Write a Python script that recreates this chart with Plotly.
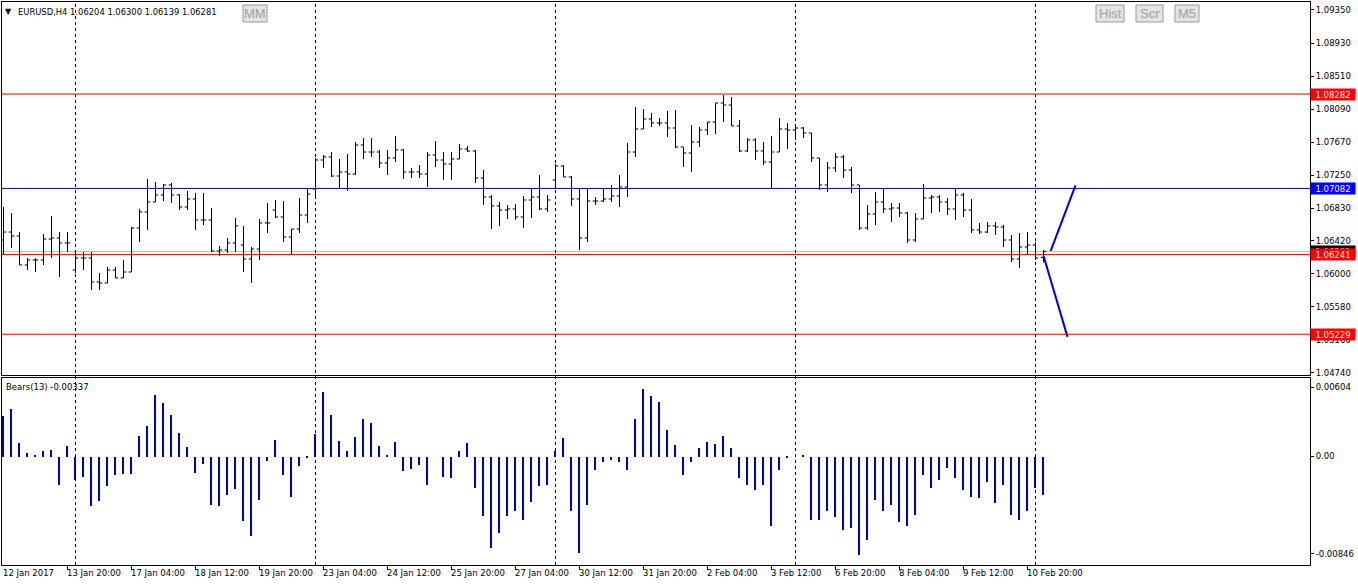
import plotly.graph_objects as go

# ---------------- data (EURUSD H4, bar index 0 = 12 Jan 2017 12:00) ----------------
open_ = [1.06427, 1.06528, 1.06477, 1.06109, 1.06172, 1.06172, 1.06439, 1.06452, 1.06389, 1.06045,
         1.06198, 1.06198, 1.05893, 1.05880, 1.06045, 1.05944, 1.06020, 1.06579, 1.06783, 1.06910,
         1.06999, 1.07126, 1.06999, 1.06846, 1.06948, 1.06681, 1.06681, 1.06287, 1.06300, 1.06389,
         1.06363, 1.06185, 1.06312, 1.06643, 1.06808, 1.06719, 1.06465, 1.06566, 1.06744, 1.07075,
         1.07443, 1.07482, 1.07240, 1.07291, 1.07265, 1.07634, 1.07545, 1.07545, 1.07405, 1.07469,
         1.07571, 1.07291, 1.07291, 1.07265, 1.07507, 1.07443, 1.07393, 1.07456, 1.07583, 1.07558,
         1.07215, 1.06973, 1.06859, 1.06808, 1.06821, 1.06719, 1.06935, 1.06973, 1.06821, 1.07189,
         1.07367, 1.07227, 1.06948, 1.06452, 1.06922, 1.06922, 1.06948, 1.06986, 1.07100, 1.07545,
         1.07837, 1.07965, 1.07914, 1.07914, 1.07850, 1.07609, 1.07532, 1.07672, 1.07825, 1.07926,
         1.08168, 1.08142, 1.07876, 1.07558, 1.07698, 1.07558, 1.07418, 1.07545, 1.07837, 1.07825,
         1.07850, 1.07787, 1.07469, 1.07126, 1.07342, 1.07482, 1.07316, 1.07126, 1.06579, 1.06757,
         1.06910, 1.06821, 1.06833, 1.06770, 1.06427, 1.06694, 1.06960, 1.06973, 1.06910, 1.06821,
         1.06999, 1.06808, 1.06554, 1.06528, 1.06605, 1.06592, 1.06427, 1.06185, 1.06338, 1.06363,
         1.06204]
high = [1.06846, 1.06770, 1.06528, 1.06198, 1.06198, 1.06503, 1.06732, 1.06528, 1.06528, 1.06300,
        1.06274, 1.06274, 1.06007, 1.06083, 1.06083, 1.06172, 1.06592, 1.06821, 1.07202, 1.07164,
        1.07138, 1.07151, 1.07011, 1.07049, 1.07024, 1.07024, 1.06833, 1.06350, 1.06452, 1.06706,
        1.06605, 1.06338, 1.06694, 1.06897, 1.06935, 1.06922, 1.06566, 1.06960, 1.07088, 1.07469,
        1.07507, 1.07545, 1.07456, 1.07520, 1.07672, 1.07723, 1.07723, 1.07571, 1.07571, 1.07748,
        1.07583, 1.07342, 1.07380, 1.07545, 1.07685, 1.07545, 1.07545, 1.07647, 1.07621, 1.07571,
        1.07316, 1.06999, 1.06910, 1.06871, 1.06884, 1.06986, 1.07088, 1.07253, 1.06999, 1.07393,
        1.07380, 1.07240, 1.07088, 1.07088, 1.06973, 1.07088, 1.07126, 1.07253, 1.07660, 1.08117,
        1.08092, 1.08041, 1.07977, 1.08066, 1.08079, 1.07609, 1.07888, 1.07863, 1.07926, 1.08168,
        1.08270, 1.08244, 1.07952, 1.07723, 1.07723, 1.07672, 1.07748, 1.07977, 1.07914, 1.07888,
        1.07863, 1.07787, 1.07469, 1.07418, 1.07532, 1.07507, 1.07354, 1.07126, 1.06871, 1.07037,
        1.07075, 1.06897, 1.06897, 1.06783, 1.06770, 1.07138, 1.06999, 1.06999, 1.06960, 1.07088,
        1.07024, 1.06948, 1.06643, 1.06655, 1.06655, 1.06617, 1.06490, 1.06516, 1.06528, 1.06401,
        1.06300]
low = [1.06236, 1.06325, 1.06109, 1.06045, 1.06020, 1.06109, 1.06198, 1.05956, 1.06274, 1.06007,
       1.06045, 1.05791, 1.05791, 1.05880, 1.05944, 1.05944, 1.06020, 1.06401, 1.06554, 1.06910,
       1.06922, 1.06897, 1.06808, 1.06808, 1.06554, 1.06617, 1.06274, 1.06223, 1.06261, 1.06274,
       1.06020, 1.05880, 1.06172, 1.06516, 1.06706, 1.06401, 1.06236, 1.06516, 1.06643, 1.06960,
       1.07342, 1.07227, 1.07075, 1.07049, 1.07253, 1.07456, 1.07482, 1.07342, 1.07253, 1.07418,
       1.07202, 1.07215, 1.07215, 1.07100, 1.07354, 1.07189, 1.07189, 1.07456, 1.07545, 1.07151,
       1.06871, 1.06566, 1.06605, 1.06694, 1.06681, 1.06579, 1.06706, 1.06808, 1.06783, 1.07075,
       1.07227, 1.06859, 1.06300, 1.06401, 1.06871, 1.06910, 1.06910, 1.06846, 1.06973, 1.07482,
       1.07837, 1.07863, 1.07876, 1.07736, 1.07596, 1.07354, 1.07291, 1.07609, 1.07761, 1.07774,
       1.07926, 1.07876, 1.07545, 1.07545, 1.07443, 1.07380, 1.07088, 1.07545, 1.07583, 1.07698,
       1.07723, 1.07418, 1.07062, 1.07037, 1.07291, 1.07215, 1.07024, 1.06554, 1.06554, 1.06617,
       1.06770, 1.06655, 1.06719, 1.06389, 1.06401, 1.06694, 1.06770, 1.06783, 1.06744, 1.06681,
       1.06719, 1.06516, 1.06503, 1.06516, 1.06490, 1.06338, 1.06147, 1.06071, 1.06236, 1.06172,
       1.06139]
close = [1.06528, 1.06477, 1.06109, 1.06172, 1.06172, 1.06439, 1.06452, 1.06389, 1.06389, 1.06198,
         1.06198, 1.05893, 1.05880, 1.06045, 1.05944, 1.06020, 1.06579, 1.06783, 1.06910, 1.06999,
         1.07126, 1.06999, 1.06846, 1.06948, 1.06681, 1.06681, 1.06287, 1.06300, 1.06389, 1.06605,
         1.06185, 1.06312, 1.06643, 1.06643, 1.06719, 1.06465, 1.06566, 1.06744, 1.07011, 1.07443,
         1.07482, 1.07240, 1.07291, 1.07265, 1.07634, 1.07545, 1.07545, 1.07405, 1.07469, 1.07571,
         1.07291, 1.07291, 1.07265, 1.07507, 1.07443, 1.07393, 1.07456, 1.07583, 1.07558, 1.07215,
         1.06973, 1.06859, 1.06808, 1.06821, 1.06719, 1.06935, 1.06973, 1.06821, 1.06935, 1.07367,
         1.07227, 1.06948, 1.06452, 1.06922, 1.06922, 1.06948, 1.06986, 1.07100, 1.07545, 1.07837,
         1.07965, 1.07914, 1.07914, 1.07850, 1.07609, 1.07532, 1.07672, 1.07825, 1.07926, 1.08168,
         1.08142, 1.07876, 1.07558, 1.07698, 1.07558, 1.07418, 1.07545, 1.07837, 1.07825, 1.07850,
         1.07787, 1.07469, 1.07126, 1.07342, 1.07482, 1.07316, 1.07126, 1.06579, 1.06757, 1.06910,
         1.06821, 1.06833, 1.06770, 1.06427, 1.06694, 1.06960, 1.06973, 1.06910, 1.06821, 1.06999,
         1.06808, 1.06554, 1.06528, 1.06605, 1.06592, 1.06427, 1.06185, 1.06338, 1.06363, 1.06198,
         1.06281]
bears = [0.00350, 0.00410, 0.00120, 0.00030, 0.00010, 0.00046, 0.00055, -0.00250, 0.00091, -0.00204,
         -0.00174, -0.00427, -0.00388, -0.00259, -0.00165, -0.00152, -0.00152, 0.00177, 0.00268, 0.00534,
         0.00467, 0.00360, 0.00201, 0.00085, -0.00143, -0.00061, -0.00418, -0.00427, -0.00332, -0.00281,
         -0.00564, -0.00692, -0.00381, -0.00037, 0.00146, -0.00165, -0.00351, -0.00082, -0.00012, 0.00198,
         0.00558, 0.00360, 0.00131, 0.00046, 0.00168, 0.00323, 0.00293, 0.00095, 0.00010, 0.00122,
         -0.00128, -0.00107, -0.00076, -0.00250, 0.00000, -0.00174, -0.00189, 0.00046, 0.00116, -0.00272,
         -0.00516, -0.00799, -0.00662, -0.00516, -0.00470, -0.00555, -0.00397, -0.00259, -0.00244, 0.00050,
         0.00160, -0.00470, -0.00840, -0.00420, -0.00120, -0.00050, -0.00030, -0.00050, -0.00120, 0.00330,
         0.00590, 0.00530, 0.00470, 0.00230, 0.00100, -0.00160, -0.00050, 0.00070, 0.00130, 0.00110,
         0.00180, 0.00070, -0.00190, -0.00250, -0.00290, -0.00250, -0.00600, -0.00120, -0.00010, 0.00000,
         0.00010, -0.00550, -0.00550, -0.00470, -0.00530, -0.00640, -0.00620, -0.00860, -0.00730, -0.00380,
         -0.00470, -0.00420, -0.00570, -0.00600, -0.00510, -0.00160, -0.00270, -0.00200, -0.00100, -0.00190,
         -0.00290, -0.00350, -0.00360, -0.00220, -0.00400, -0.00250, -0.00510, -0.00550, -0.00470, -0.00270,
         -0.00337]
bar_index = list(range(len(close)))

tick_index = [0, 8, 16, 24, 32, 40, 48, 56, 64, 72, 80, 88, 96, 104, 112, 120, 128]
tick_labels = ["12 Jan 2017", "13 Jan 20:00", "17 Jan 04:00", "18 Jan 12:00", "19 Jan 20:00",
               "23 Jan 04:00", "24 Jan 12:00", "25 Jan 20:00", "27 Jan 04:00", "30 Jan 12:00",
               "31 Jan 20:00", "2 Feb 04:00", "3 Feb 12:00", "6 Feb 20:00", "8 Feb 04:00",
               "9 Feb 12:00", "10 Feb 20:00"]
week_starts = [9, 39, 69, 99, 129]          # Monday 00:00 bars (period separators)

price_ticks = [1.09350, 1.08930, 1.08510, 1.08090, 1.07670, 1.07250, 1.06830, 1.06420,
               1.06000, 1.05580, 1.05160, 1.04740]
bears_ticks = [0.00604, 0.0, -0.00846]
bears_tick_text = ["0.00604", "0.00", "-0.00846"]

red_levels = [1.08282, 1.06241, 1.05229]
blue_levels = [1.07082]
bid_price = 1.06281

trend_up_x = [130.9, 134.0]
trend_up_y = [1.06289, 1.07120]
trend_dn_x = [130.0, 133.0]
trend_dn_y = [1.06226, 1.05195]

# ---------------- figure ----------------
W, H = 1358, 585
ML, MR, MT, MB = 2, 48, 2, 20
PW, PH = W - ML - MR, H - MT - MB


def fx(px):
    return (px - ML) / PW


def fy(py):
    return (H - MB - py) / PH


FONT = "DejaVu Sans"
main_dom = [fy(375), 1.0]
ind_dom = [0.0, fy(378)]
x_range = [(ML - 3.5) / 8.0, (ML + PW - 3.5) / 8.0]

fig = go.Figure()

fig.add_trace(go.Ohlc(
    x=bar_index, open=open_, high=high, low=low, close=close,
    xaxis="x2", yaxis="y",
    increasing=dict(line=dict(color="black", width=1)),
    decreasing=dict(line=dict(color="black", width=1)),
    tickwidth=0.35, hoverinfo="skip", showlegend=False,
))

fig.add_trace(go.Bar(
    x=bar_index, y=bears, xaxis="x", yaxis="y2", width=0.13,
    marker=dict(color="#0000c0", line=dict(width=0)), showlegend=False, hoverinfo="skip",
))

fig.add_trace(go.Scatter(x=trend_up_x, y=trend_up_y, xaxis="x2", yaxis="y", mode="lines",
                         line=dict(color="#0000e0", width=2), showlegend=False, hoverinfo="skip"))
fig.add_trace(go.Scatter(x=trend_dn_x, y=trend_dn_y, xaxis="x2", yaxis="y", mode="lines",
                         line=dict(color="#0000e0", width=2), showlegend=False, hoverinfo="skip"))

shapes = []
# bid line
shapes.append(dict(type="line", xref="paper", x0=0, x1=1, yref="y", y0=bid_price, y1=bid_price,
                   line=dict(color="#c0c0c0", width=1), layer="below"))
for lv in red_levels:
    shapes.append(dict(type="line", xref="paper", x0=0, x1=1, yref="y", y0=lv, y1=lv,
                       line=dict(color="#e00000", width=1)))
for lv in blue_levels:
    shapes.append(dict(type="line", xref="paper", x0=0, x1=1, yref="y", y0=lv, y1=lv,
                       line=dict(color="#0000a0", width=1)))
for ws in week_starts:
    shapes.append(dict(type="line", xref="x", x0=ws, x1=ws, yref="paper", y0=0, y1=1,
                       line=dict(color="black", width=1, dash="3px,3px")))

# buttons
buttons = [("MM", 243, 267), ("Hist", 1096, 1124), ("Scr", 1136, 1163), ("M5", 1175, 1199)]
annotations = []
for label, x0, x1 in buttons:
    shapes.append(dict(type="rect", xref="paper", yref="paper", x0=fx(x0), x1=fx(x1),
                       y0=fy(22), y1=fy(5), fillcolor="#e4e4e4",
                       line=dict(color="#9a9a9a", width=1)))
    annotations.append(dict(xref="paper", yref="paper", x=fx((x0 + x1) / 2), y=fy(13.5),
                            text=label, showarrow=False, xanchor="center", yanchor="middle",
                            font=dict(family="Liberation Sans", size=13, color="#a0a0a0")))

# header + indicator caption
annotations.append(dict(xref="paper", yref="paper", x=fx(3), y=fy(12), xanchor="left",
                        yanchor="middle", showarrow=False, text="\u25BC",
                        font=dict(family=FONT, size=8, color="black")))
annotations.append(dict(xref="paper", yref="paper", x=fx(16), y=fy(12), xanchor="left",
                        yanchor="middle", showarrow=False,
                        text="EURUSD,H4 1.06204 1.06300 1.06139 1.06281",
                        font=dict(family=FONT, size=8.4, color="black")))
annotations.append(dict(xref="paper", yref="paper", x=fx(4), y=fy(387), xanchor="left",
                        yanchor="middle", showarrow=False, text="Bears(13) -0.00337",
                        font=dict(family=FONT, size=8.5, color="black")))

# time labels
for ti, tl in zip(tick_index, tick_labels):
    annotations.append(dict(xref="x", yref="paper", x=ti, y=fy(573), xanchor="left",
                            yanchor="middle", xshift=-3, showarrow=False, text=tl,
                            font=dict(family=FONT, size=8.5, color="black")))

# price label boxes
box_style = dict(xref="paper", yref="y", x=1, xanchor="left", yanchor="middle", xshift=0,
                 showarrow=False, width=44, height=11, align="center", borderpad=0)
annotations.append(dict(y=bid_price, text="1.06281", bgcolor="black",
                        font=dict(family=FONT, size=8.5, color="white"), **box_style))
for lv in red_levels:
    annotations.append(dict(y=lv, text=f"{lv:.5f}", bgcolor="#ff0000",
                            font=dict(family=FONT, size=8.5, color="white"), **box_style))
for lv in blue_levels:
    annotations.append(dict(y=lv, text=f"{lv:.5f}", bgcolor="#0000ff",
                            font=dict(family=FONT, size=8.5, color="white"), **box_style))

axis_common = dict(showgrid=False, zeroline=False, showline=True, linecolor="black",
                   linewidth=1, mirror=True)

fig.update_layout(
    width=W, height=H, margin=dict(l=ML, r=MR, t=MT, b=MB),
    paper_bgcolor="white", plot_bgcolor="white", showlegend=False, bargap=0,
    xaxis=dict(domain=[0, 1], anchor="y2", range=x_range, tickmode="array",
               tickvals=tick_index[1:], showticklabels=False, ticks="outside", ticklen=4,
               tickcolor="black", **axis_common),
    xaxis2=dict(domain=[0, 1], anchor="y", range=x_range, matches="x", showticklabels=False,
                ticks="", rangeslider=dict(visible=False), **axis_common),
    yaxis=dict(domain=main_dom, anchor="x2", side="right",
               range=[1.09477 - 0.0001271 * 375, 1.09477 - 0.0001271 * 2],
               tickmode="array", tickvals=price_ticks, ticktext=[f"{v:.5f}" for v in price_ticks],
               ticks="outside", ticklen=3, tickcolor="black",
               tickfont=dict(family=FONT, size=8.5, color="black"), **axis_common),
    yaxis2=dict(domain=ind_dom, anchor="x", side="right",
                range=[-(565 - 456.5) / 11500.0, (456.5 - 378) / 11500.0],
                tickmode="array", tickvals=bears_ticks, ticktext=bears_tick_text,
                ticks="outside", ticklen=3, tickcolor="black",
                tickfont=dict(family=FONT, size=8.5, color="black"), **axis_common),
    shapes=shapes, annotations=annotations,
)

fig.write_html("out.html", config={"displayModeBar": False},
               post_script="document.body.style.margin='0px';document.body.style.padding='0px';")
